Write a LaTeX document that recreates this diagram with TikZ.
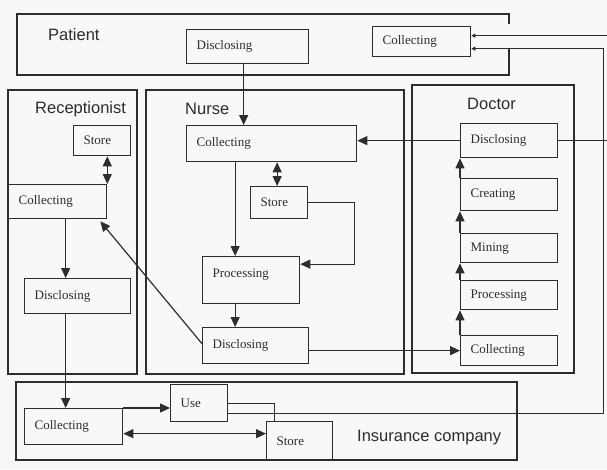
\documentclass[tikz,border=0pt]{standalone}
\usepackage{fontspec}
\setmainfont{Liberation Serif}
\newfontfamily\lanefont{Liberation Sans}
\usetikzlibrary{arrows.meta}

\newcommand*{\pagew}{607}
\newcommand*{\pageh}{469}
\definecolor{linec}{RGB}{45,45,45}
\definecolor{paper}{RGB}{248,248,248}

\begin{document}
\begin{tikzpicture}
[
	x=1pt, y=-1pt,
	linec,
	lane/.style={draw=linec, line width=1.4pt},
	lanelabel/.style={anchor=west, inner sep=0pt, font=\lanefont\fontsize{16.5}{19}\selectfont},
	box/.style={draw=linec, line width=1.3pt, anchor=north west, inner xsep=10pt, inner ysep=0pt, align=left, font=\fontsize{13}{15}\selectfont},
	arr/.style={line width=1.2pt, -{Triangle[length=10pt,width=9pt]}},
	darr/.style={line width=1.2pt, {Triangle[length=10pt,width=9pt]}-{Triangle[length=10pt,width=9pt]}},
	smallarr/.style={line width=1.2pt, -{Triangle[length=4pt,width=4pt]}}
]

	% background
	\fill[paper] (0,0) rectangle (\pagew,\pageh);
	\useasboundingbox (0,0) rectangle (\pagew,\pageh);

	% lanes
	\draw[lane] (509,24) -- (509,14) -- (17,14) -- (17,75) -- (509,75) -- (509,48);
	\draw[lane] (8,90) rectangle (137,374);
	\draw[lane] (146,90) rectangle (404,374);
	\draw[lane] (412,85) rectangle (574,373);
	\draw[lane] (16,382) rectangle (517,460);

	\node[lanelabel] (patient) at (48,35) {Patient};
	\node[lanelabel] (recept) at (35,109) {Receptionist};
	\node[lanelabel] (nurse) at (185,109) {Nurse};
	\node[lanelabel] (doctor) at (467,104) {Doctor};
	\node[lanelabel] (insur) at (357,438) {Insurance company};

	% patient
	\node[box, text width=102pt, minimum height=34pt] (pdis) at (186,29) {Disclosing};
	\node[box, text width=78pt, minimum height=30pt] (pcol) at (372,26) {Collecting};

	% receptionist
	\node[box, text width=37pt, minimum height=30pt] (rsto) at (73,125) {Store};
	\node[box, text width=78pt, minimum height=34pt] (rcol) at (8,184) {Collecting};
	\node[box, text width=86pt, minimum height=35pt] (rdis) at (24,278) {Disclosing};

	% nurse
	\node[box, text width=150pt, minimum height=36pt] (ncol) at (186,125) {Collecting};
	\node[box, text width=37pt, minimum height=32pt] (nsto) at (250,186) {Store};
	\node[box, text width=77pt, minimum height=47pt] (npro) at (202,256) {\raisebox{3pt}[0pt][0pt]{Processing}};
	\node[box, text width=86pt, minimum height=36pt] (ndis) at (202,327) {Disclosing};

	% doctor
	\node[box, text width=77pt, minimum height=34pt] (ddis) at (460,123) {Disclosing};
	\node[box, text width=77pt, minimum height=32pt] (dcre) at (460,178) {Creating};
	\node[box, text width=77pt, minimum height=29pt] (dmin) at (460,233) {Mining};
	\node[box, text width=77pt, minimum height=29pt] (dpro) at (460,280) {Processing};
	\node[box, text width=77pt, minimum height=30pt] (dcol) at (460,335) {Collecting};

	% insurance company
	\node[box, text width=78pt, minimum height=36pt] (icol) at (24,408) {Collecting};
	\node[box, text width=37pt, minimum height=37pt] (iuse) at (170,384) {Use};
	\node[box, text width=46pt, minimum height=39pt] (isto) at (266,421) {Store};

	% flows
	\draw[arr] ([xshift=-4pt]pdis.south) -- ([xshift=-4pt]pdis.south |- ncol.north);
	\draw[darr] (rcol.north east) -- (rcol.north east |- rsto.south);
	\draw[arr] ([xshift=8pt]rcol.south) -- ([xshift=8pt]rcol.south |- rdis.north);
	\draw[arr] ([xshift=-12pt]rdis.south) -- ([xshift=-12pt]rdis.south |- icol.north);
	\draw[darr] ([xshift=-2pt]nsto.north) -- ([xshift=-2pt]nsto.north |- ncol.south);
	\draw[arr] ([xshift=-16pt]npro.north |- ncol.south) -- ([xshift=-16pt]npro.north);
	\draw[arr] (nsto.east) -- ++(46,0) |- ([yshift=16pt]npro.east);
	\draw[arr] ([xshift=-16pt]npro.south) -- ([xshift=-16pt]npro.south |- ndis.north);
	\draw[arr] ([yshift=2pt]ndis.west) -- ([xshift=-7pt,yshift=-2pt]rcol.south east);
	\draw[arr] (ndis.east |- dcol.west) -- (dcol.west);
	\draw[arr] (ddis.west) -- (ncol.east |- ddis.west);
	\draw[arr] (dcol.north west) -- (dpro.south west);
	\draw[arr] (dpro.north west) -- (dmin.south west);
	\draw[arr] (dmin.north west) -- (dcre.south west);
	\draw[arr] (dcre.north west) -- (ddis.south west);
	\draw[smallarr] (ddis.east) -- ++(58,0) |- ([yshift=6pt]pcol.east);
	\draw[smallarr] ([yshift=-10pt]iuse.east) -- ++(375,0) |- ([yshift=-7pt]pcol.east);
	\draw[line width=1.2pt] (iuse.east) -| ([xshift=-25pt]isto.north);
	\draw[arr] (icol.north east) -- (icol.north east -| iuse.west);
	\draw[darr] ([yshift=-7pt]icol.east) -- ([yshift=-7pt]icol.east -| isto.west);

\end{tikzpicture}
\end{document}
